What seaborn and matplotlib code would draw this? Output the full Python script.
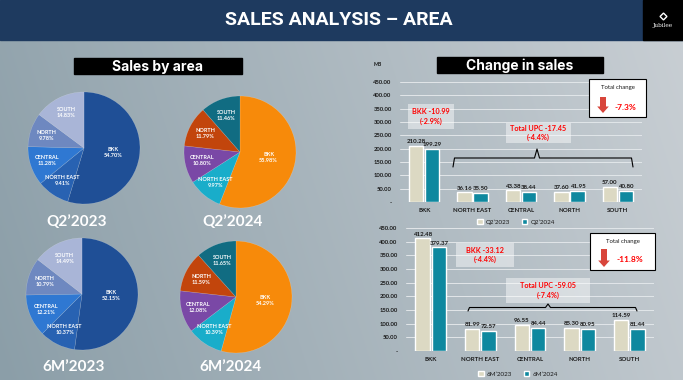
import matplotlib
matplotlib.use("Agg")
import numpy as np
import pandas as pd
import matplotlib.pyplot as plt
import seaborn as sns
from matplotlib.patches import Rectangle, Polygon
from matplotlib.lines import Line2D
from matplotlib.transforms import Affine2D

# ---------------- data ----------------
areas = ["BKK", "NORTH EAST", "CENTRAL", "NORTH", "SOUTH"]

pie_titles = ["Q2’2023", "Q2’2024", "6M’2023", "6M’2024"]
share_q2_2023 = [54.70, 9.41, 11.28, 9.78, 14.83]
share_q2_2024 = [55.98, 9.97, 10.80, 11.79, 11.46]
share_6m_2023 = [52.15, 10.37, 12.21, 10.79, 14.49]
share_6m_2024 = [54.29, 10.39, 12.08, 11.59, 11.65]

q2_periods = ["Q2’2023", "Q2’2024"]
sales_q2_2023 = [210.28, 36.16, 43.38, 37.60, 57.00]
sales_q2_2024 = [199.29, 35.50, 38.44, 41.95, 40.80]

m6_periods = ["6M’2023", "6M’2024"]
sales_6m_2023 = [412.48, 81.99, 96.55, 85.30, 114.59]
sales_6m_2024 = [379.37, 72.57, 84.44, 80.95, 81.44]

y_ticks = [0, 50, 100, 150, 200, 250, 300, 350, 400, 450]
y_tick_labels = ["-", "50.00", "100.00", "150.00", "200.00", "250.00",
                 "300.00", "350.00", "400.00", "450.00"]

q2_bkk_note = "BKK -10.99\n(-2.9%)"
q2_upc_note = "Total UPC -17.45\n(-4.4%)"
q2_total_change = "-7.3%"
m6_bkk_note = "BKK -33.12\n(-4.4%)"
m6_upc_note = "Total UPC -59.05\n(-7.4%)"
m6_total_change = "-11.8%"

# ---------------- style ----------------
sns.set_theme(style="white")
plt.rcParams["font.family"] = ["Lato", "DejaVu Sans"]

blues = ["#1F4F96", "#2862B2", "#2F78D2", "#6E88C0", "#A9B5D7"]
warm = ["#F78A0A", "#19ADCA", "#7A48A6", "#C2450C", "#116C82"]
beige, teal = "#DCD9C3", "#0E889F"
red = "#FF0000"
ink = "#1a1a1a"

W, H = 683, 380
fig = plt.figure(figsize=(W / 100, H / 100), dpi=100)
P = Affine2D().scale(1 / W, -1 / H).translate(0, 1) + fig.transFigure


def rect_ax(x0, y0, x1, y1, **kw):
    return fig.add_axes([x0 / W, 1 - y1 / H, (x1 - x0) / W, (y1 - y0) / H], **kw)


# background gradient
bg = rect_ax(0, 0, W, H, zorder=-10)
X, Y = np.meshgrid(np.linspace(0, 1, 400), np.linspace(0, 1, 240))
t = np.clip(0.85 * X + 0.15 * (1 - Y), 0, 1)
c0 = np.array([0x8B, 0x9E, 0xA8]) / 255
c1 = np.array([0xC9, 0xCF, 0xD4]) / 255
bg.imshow(c0 + (c1 - c0) * t[..., None], extent=[0, 1, 0, 1], aspect="auto")
bg.axis("off")

# title bar
fig.add_artist(Rectangle((0, 0), W, 40, transform=P, color="#1E3A5F", zorder=1))
fig.add_artist(Rectangle((643, 0), 40, 40, transform=P, color="black", zorder=2))
fig.text(339, 20, "SALES ANALYSIS – AREA", transform=P, color="white",
         fontsize=14, fontweight="bold", ha="center", va="center",
         family=["Roboto", "DejaVu Sans"], zorder=3)
fig.add_artist(Line2D([663], [16], transform=P, marker="D", markersize=3.5,
                      markerfacecolor="none", markeredgecolor="white",
                      markeredgewidth=1.0, zorder=3))
fig.text(663, 26, "Jubilee", transform=P, color="white", fontsize=4.2,
         ha="center", va="center", family=["DejaVu Serif"], zorder=3)

# section headers
for (x0, y0, x1, y1), label in [((74, 58, 242, 74), "Sales by area"),
                                ((437, 57, 603, 73), "Change in sales")]:
    fig.add_artist(Rectangle((x0, y0), x1 - x0, y1 - y0, transform=P,
                             color="black", zorder=2))
    fig.text((x0 + x1) / 2, (y0 + y1) / 2 + 0.5, label, transform=P,
             color="white", fontsize=10, fontweight="bold", ha="center",
             va="center", family=["Inter", "DejaVu Sans"], zorder=3)


# ---------------- pies ----------------
def draw_pie(shares, colors, cx, cy, R, title, tx, ty):
    ax = rect_ax(cx - R, cy - R, cx + R, cy + R)
    wedges, _ = ax.pie(shares, colors=colors, startangle=90, counterclock=False,
                       wedgeprops=dict(linewidth=0.3, edgecolor=(1, 1, 1, 0.3)))
    ax.set_xlim(-1, 1)
    ax.set_ylim(-1, 1)
    ax.set_aspect("equal")
    ax.axis("off")
    for i, w in enumerate(wedges):
        ang = np.deg2rad((w.theta1 + w.theta2) / 2)
        r = 0.52 if i == 0 else 0.7
        ax.text(r * np.cos(ang), r * np.sin(ang), f"{areas[i]}\n{shares[i]:.2f}%",
                ha="center", va="center", fontsize=4.0, fontweight="bold",
                color="white", linespacing=1.25)
    fig.text(tx, ty, title, transform=P, color="white", fontsize=11,
             fontweight="bold", ha="center", va="center")


draw_pie(share_q2_2023, blues, 84, 148, 56, pie_titles[0], 77, 222)
draw_pie(share_q2_2024, warm, 240, 152, 56, pie_titles[1], 233, 222)
draw_pie(share_6m_2023, blues, 82, 294, 56, pie_titles[2], 74, 367)
draw_pie(share_6m_2024, warm, 236, 297, 56, pie_titles[3], 231, 367)


# ---------------- bars ----------------
def draw_bars(box, s1, s2, periods, legend_y, legend_x, gap):
    ax = rect_ax(*box)
    ax.patch.set_alpha(0)
    df = pd.DataFrame({"area": areas * 2, "sales": s1 + s2,
                       "period": [periods[0]] * 5 + [periods[1]] * 5})
    sns.barplot(data=df, x="area", y="sales", hue="period",
                palette=[beige, teal], width=0.66, gap=gap, saturation=1,
                errorbar=None, ax=ax)
    for cont, vals in zip(ax.containers, [s1, s2]):
        ax.bar_label(cont, labels=[f"{v:.2f}" for v in vals], padding=1.2,
                     fontsize=4.4, fontweight="bold", color=ink)
    ax.set_xlim(-0.5, 4.5)
    ax.set_ylim(0, 450)
    ax.set_yticks(y_ticks)
    ax.set_yticklabels(y_tick_labels)
    ax.set_xlabel("")
    ax.set_ylabel("")
    for s in ax.spines.values():
        s.set_visible(False)
    ax.yaxis.grid(True, color="#E2E6E9", linewidth=0.7)
    ax.set_axisbelow(True)
    ax.tick_params(axis="y", length=0, pad=6, labelsize=4.2, labelcolor=ink)
    ax.tick_params(axis="x", length=0, pad=4.5, labelsize=4.4, labelcolor=ink)
    for lab in ax.get_xticklabels() + ax.get_yticklabels():
        lab.set_fontweight("bold")
    bw = box[2] - box[0]
    bh = box[3] - box[1]
    ax.legend(loc="center", bbox_to_anchor=((legend_x - box[0]) / bw,
                                            -(legend_y - box[3]) / bh),
              ncol=2, frameon=False, fontsize=4.5, handlelength=0.9,
              handleheight=0.9, handletextpad=0.5, columnspacing=1.8,
              labelcolor=ink)
    return ax


draw_bars((400, 82, 642, 202), sales_q2_2023, sales_q2_2024, q2_periods, 222, 516, 0.1)
draw_bars((406, 228, 654, 351), sales_6m_2023, sales_6m_2024, m6_periods, 374, 518, 0.12)
fig.text(378, 65, "MB", transform=P, fontsize=3.8, color=ink, ha="center",
         va="center", fontweight="bold")


# ---------------- annotations ----------------
def note(x0, y0, x1, y1, text):
    fig.add_artist(Rectangle((x0, y0), x1 - x0, y1 - y0, transform=P,
                             facecolor="white", alpha=0.45, edgecolor="none", zorder=4))
    fig.text((x0 + x1) / 2, (y0 + y1) / 2, text, transform=P, color=red,
             fontsize=5.2, fontweight="bold", ha="center", va="center",
             linespacing=1.35, zorder=5)


def brace(x0, x1, xm, y_end, y_line, y_tip):
    xs = [x0, x0 + 1.5, xm - 2.5, xm, xm + 2.5, x1 - 1.5, x1]
    ys = [y_end, y_line, y_line, y_tip, y_line, y_line, y_end]
    fig.add_artist(Line2D(xs, ys, transform=P, color="black", linewidth=0.8,
                          solid_joinstyle="round", zorder=4))


def total_box(x0, y0, x1, y1, ax_c, ay0, ay1, value, vx, vy):
    fig.add_artist(Rectangle((x0, y0), x1 - x0, y1 - y0, transform=P,
                             facecolor="white", edgecolor="black", linewidth=0.8,
                             zorder=4))
    fig.text((x0 + x1) / 2, y0 + 9, "Total change", transform=P, fontsize=4.3,
             color=ink, ha="center", va="center", zorder=5)
    yh = ay1 - 6.5
    pts = [(ax_c - 3, ay0), (ax_c + 3, ay0), (ax_c + 3, yh), (ax_c + 5.8, yh),
           (ax_c, ay1), (ax_c - 5.8, yh), (ax_c - 3, yh)]
    fig.add_artist(Polygon(pts, closed=True, transform=P, facecolor="#D8453B",
                           edgecolor="none", zorder=5))
    fig.text(vx, vy, value, transform=P, fontsize=6, fontweight="bold",
             color=red, ha="center", va="center", zorder=5)


note(408, 104, 454, 129, q2_bkk_note)
note(506, 123, 571, 143, q2_upc_note)
brace(453, 633, 537, 167, 158, 149)
total_box(589, 79, 646, 117, 603, 97, 113, q2_total_change, 625, 107)

note(456, 243, 514, 267, m6_bkk_note)
note(506, 278, 590, 303, m6_upc_note)
brace(468, 637, 548, 311, 307.5, 304)
total_box(590, 233, 655, 270, 604, 249, 267, m6_total_change, 630, 260)

fig.savefig("out.png", dpi=100)
